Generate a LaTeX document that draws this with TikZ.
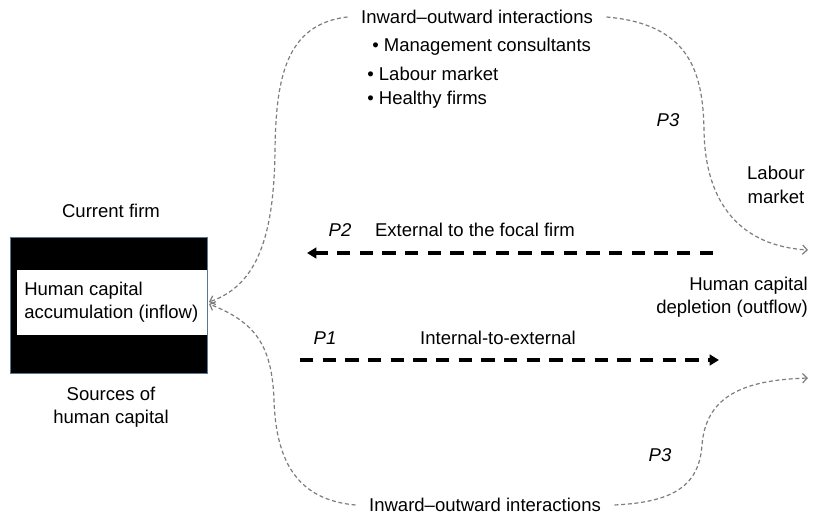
\documentclass[tikz,border=0pt]{standalone}
\usepackage{fontspec}
\setmainfont{Liberation Sans}
\usetikzlibrary{arrows.meta}
\definecolor{curvegray}{RGB}{125,125,125}
\definecolor{boxedge}{RGB}{90,120,150}
\begin{document}
\begin{tikzpicture}[x=0.75pt,y=-0.75pt,
  lbl/.style={inner sep=0pt, font=\fontsize{13.9pt}{17.5pt}\selectfont},
  ital/.style={lbl, font=\fontsize{13.9pt}{17.5pt}\selectfont\itshape},
  softflow/.style={draw=curvegray, line width=0.9pt, dash pattern=on 3pt off 2pt,
    -{Straight Barb[length=3.5pt,width=7pt]}},
  mainflow/.style={draw=black, line width=3pt, dash pattern=on 10pt off 7pt,
    -{Triangle[length=7pt,width=8pt]}}]
\useasboundingbox (0,0) rectangle (813,518);

% firm box
\node[draw=boxedge, line width=1.1pt, fill=black, minimum width=197*0.75pt,
  minimum height=136*0.75pt, inner sep=0pt, anchor=north west] (firm) at (10,237) {};
\fill[white] (17,270) rectangle (206.5,335);
\node[lbl, align=left, anchor=west] (hcacc) at (24,302.5)
  {Human capital\\accumulation (inflow)};
\node[lbl] (curfirm) at (111,211) {Current firm};
\node[lbl, align=center] (sources) at (111,407.5) {Sources of\\human capital};

% top texts
\node[lbl] (topio) at (477,17) {Inward–outward interactions};
\node[lbl, anchor=west] (b1) at (372,47) {• Management consultants};
\node[lbl, anchor=west] (b2) at (367,74) {• Labour market};
\node[lbl, anchor=west] (b3) at (367,100) {• Healthy firms};
\node[ital] (p3a) at (668,120) {P3};
\node[lbl, align=center] (labmkt) at (776,185) {Labour\\market};

% middle
\node[ital] (p2) at (340,230) {P2};
\node[lbl] (ext) at (475,230) {External to the focal firm};
\node[lbl, align=right, anchor=east] (depl) at (808,297) {Human capital\\depletion (outflow)};
\node[ital] (p1) at (325,338) {P1};
\node[lbl] (int) at (498,338) {Internal-to-external};

% bottom
\node[ital] (p3b) at (660,455) {P3};
\node[lbl] (botio) at (485,505) {Inward–outward interactions};

% coordinates
\coordinate (inTip) at (209,302);
\coordinate (inTipB) at (209,304);
\coordinate (outTipA) at (808,250);
\coordinate (outTipB) at (808,378);
\coordinate (p2s) at (713,253);
\coordinate (p2e) at (307,253);
\coordinate (p1s) at (300,360);
\coordinate (p1e) at (719,360);

% soft curves
\draw[softflow] ([xshift=-10pt]topio.west) .. controls (285,24) and (276,80) .. (275,150)
  .. controls (274,235) and (258,285) .. (inTip);
\draw[softflow] ([xshift=-10pt]botio.west) .. controls (300,500) and (276,465) .. (274,400)
  .. controls (272,345) and (255,322) .. (inTipB);
\draw[softflow] ([xshift=10pt]topio.east) .. controls (688,24) and (703,70) .. (704,130)
  .. controls (705,205) and (742,246) .. (outTipA);
\draw[softflow] ([xshift=10pt]botio.east) .. controls (675,502) and (699,485) .. (702,445)
  .. controls (706,395) and (745,380) .. (outTipB);

% main flows
\draw[mainflow] (p2s) -- (p2e);
\draw[mainflow] (p1s) -- (p1e);
\end{tikzpicture}
\end{document}
